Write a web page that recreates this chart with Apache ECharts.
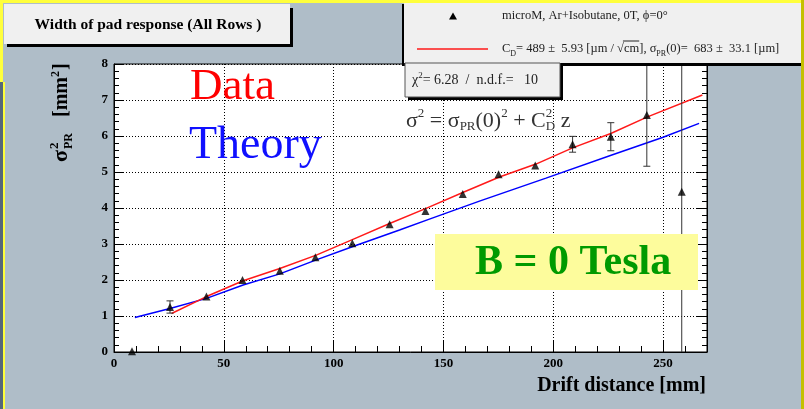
<!DOCTYPE html>
<html>
<head>
<meta charset="utf-8">
<script src="https://cdn.jsdelivr.net/npm/echarts@6/dist/echarts.min.js"></script>
<style>html,body{margin:0;padding:0;background:#afbdc8;}#c{width:804px;height:409px;}</style>
</head>
<body>
<div id="c"></div>
<script>
// ---- data ----
const dataX   = [8.2, 25.5, 42.1, 58.5, 75.5, 91.7, 108.5, 125.5, 141.8, 158.8, 175.1, 191.8, 208.8, 226.2, 242.6, 258.5];
const dataY   = [0.02, 1.25, 1.54, 2.00, 2.26, 2.63, 3.02, 3.55, 3.92, 4.39, 4.94, 5.18, 5.77, 5.98, 6.58, 4.45];
const dataErr = [0.05, 0.17, 0.05, 0.05, 0.05, 0.05, 0.05, 0.05, 0.05, 0.05, 0.05, 0.05, 0.22, 0.39, 1.42, 4.60];
const fitX    = [26.2, 42.1, 58.8, 75.5, 92.1, 108.8, 125.5, 142.1, 158.8, 175.5, 192.1, 208.8, 226.2, 242.9, 267.9];
const fitY    = [1.07, 1.54, 1.98, 2.32, 2.69, 3.13, 3.57, 3.99, 4.43, 4.86, 5.22, 5.67, 6.07, 6.53, 7.14];
const theoX   = [9.5, 25.5, 42.1, 58.8, 75.5, 92.1, 108.8, 130.0, 143.6, 166.4, 196.7, 227.0, 249.7, 266.4];
const theoY   = [0.96, 1.21, 1.49, 1.86, 2.17, 2.56, 2.93, 3.39, 3.69, 4.19, 4.83, 5.48, 5.96, 6.35];
const xTicks  = [0, 50, 100, 150, 200, 250];
const yTicks  = [0, 1, 2, 3, 4, 5, 6, 7, 8];

const SERIF = '"Liberation Serif", "DejaVu Serif", serif';
const zip = (a, b) => a.map((v, i) => [v, b[i]]);

// text measurement for placing the overline of the square root in the legend
const mctx = document.createElement('canvas').getContext('2d');
function tw(str, font) { mctx.font = font; return mctx.measureText(str).width; }
const LF = '12.5px ' + SERIF, LFS = '8px ' + SERIF;
const legX = 502;
const sqrtStart = legX + tw('C', LF) + tw('D', LFS) + tw('= 489 ±  5.93 [µm / ', LF);
const cmStart = sqrtStart + tw('√', LF) - 1;
const cmEnd = sqrtStart + tw('√cm', LF);

const chart = echarts.init(document.getElementById('c'), null, {renderer: 'canvas'});

const axisLabelStyle = {fontFamily: SERIF, fontWeight: 'bold', fontSize: 13, color: '#000'};

const option = {
  backgroundColor: '#afbdc8',
  animation: false,
  grid: {left: 114, top: 64, width: 593, height: 288, show: true, backgroundColor: '#fff', borderColor: '#000', borderWidth: 1},
  xAxis: [{
    type: 'value', min: 0, max: 270, interval: 50, position: 'bottom',
    axisLine: {show: true, onZero: false, lineStyle: {color: '#000', width: 1}},
    axisTick: {show: true, inside: true, length: 12, lineStyle: {color: '#000'}},
    axisLabel: Object.assign({margin: 5, formatter: v => xTicks.includes(v) ? String(v) : ''}, axisLabelStyle),
    splitLine: {show: true, lineStyle: {color: '#000', type: [1, 2], width: 1}}
  }, {
    type: 'value', min: 0, max: 270, interval: 10, position: 'bottom',
    axisLine: {show: false},
    axisTick: {show: true, inside: true, length: 6, lineStyle: {color: '#000'}},
    axisLabel: {show: false}, splitLine: {show: false}
  }],
  yAxis: [{
    type: 'value', min: 0, max: 8, interval: 1, position: 'left',
    axisLine: {show: true, onZero: false, lineStyle: {color: '#000', width: 1}},
    axisTick: {show: true, inside: true, length: 10, lineStyle: {color: '#000'}},
    minorTick: {show: true, splitNumber: 5, length: 5, lineStyle: {color: '#000'}},
    axisLabel: Object.assign({margin: 6, formatter: v => yTicks.includes(v) ? String(v) : ''}, axisLabelStyle),
    splitLine: {show: true, lineStyle: {color: '#000', type: [1, 2], width: 1}}
  }, {
    type: 'value', min: 0, max: 8, interval: 1, position: 'right',
    axisLine: {show: true, onZero: false, lineStyle: {color: '#000', width: 1}},
    axisTick: {show: true, inside: true, length: 10, lineStyle: {color: '#000'}},
    minorTick: {show: true, splitNumber: 5, length: 5, lineStyle: {color: '#000'}},
    axisLabel: {show: false}, splitLine: {show: false}
  }],
  series: [
    {
      name: 'theory', type: 'line', data: zip(theoX, theoY), showSymbol: false, symbol: 'none',
      lineStyle: {color: '#0000ff', width: 1.5}, z: 3, clip: true
    },
    {
      name: 'fit', type: 'line', data: zip(fitX, fitY), showSymbol: false, symbol: 'none',
      lineStyle: {color: '#ff1a1a', width: 1.5}, z: 4, clip: true
    },
    {
      name: 'errors', type: 'custom', clip: true, z: 5,
      data: dataX.map((x, i) => [x, dataY[i], dataErr[i]]),
      renderItem: function (params, api) {
        const x = api.value(0), y = api.value(1), e = api.value(2);
        if (e < 0.1) return null;
        const lo = api.coord([x, y - e]), hi = api.coord([x, y + e]);
        const w = 3.5;
        const st = {stroke: '#333', lineWidth: 1};
        return {
          type: 'group',
          children: [
            {type: 'line', shape: {x1: lo[0], y1: lo[1], x2: hi[0], y2: hi[1]}, style: st},
            {type: 'line', shape: {x1: lo[0] - w, y1: lo[1], x2: lo[0] + w, y2: lo[1]}, style: st},
            {type: 'line', shape: {x1: hi[0] - w, y1: hi[1], x2: hi[0] + w, y2: hi[1]}, style: st}
          ]
        };
      }
    },
    {
      name: 'data', type: 'scatter', data: zip(dataX, dataY), symbol: 'triangle', symbolSize: [8, 8],
      itemStyle: {color: '#000'}, z: 6
    }
  ],
  graphic: [
    // yellow frame
    {type: 'rect', shape: {x: 0, y: 0, width: 804, height: 3}, style: {fill: '#ffff3c'}, z: 50},
    {type: 'rect', shape: {x: 0, y: 0, width: 3, height: 82}, style: {fill: '#ffff3c'}, z: 50},
    {type: 'rect', shape: {x: 0, y: 82, width: 3, height: 327}, style: {fill: '#56677a'}, z: 50},
    {type: 'rect', shape: {x: 3, y: 82, width: 2, height: 327}, style: {fill: '#ffff3c'}, z: 50},
    {type: 'rect', shape: {x: 801, y: 0, width: 3, height: 409}, style: {fill: '#c4c000'}, z: 50},
    // title box
    {type: 'rect', shape: {x: 7, y: 8, width: 286, height: 39}, style: {fill: '#000'}, z: 50},
    {type: 'rect', shape: {x: 4, y: 4, width: 286, height: 40}, style: {fill: '#f0f0f0'}, z: 51},
    {type: 'text', x: 148, y: 25, z: 52,
      style: {text: 'Width of pad response (All Rows )', font: 'bold 15.5px ' + SERIF, fill: '#000', align: 'center', verticalAlign: 'middle'}},
    // legend box
    {type: 'rect', shape: {x: 402, y: 4, width: 399, height: 62}, style: {fill: '#000'}, z: 50},
    {type: 'rect', shape: {x: 404, y: 3, width: 397, height: 60}, style: {fill: '#f0f0f0'}, z: 51},
    {type: 'polygon', shape: {points: [[453, 12.5], [457, 19.5], [449, 19.5]]}, style: {fill: '#000'}, z: 52},
    {type: 'text', x: legX, y: 16, z: 52,
      style: {text: 'microM, Ar+Isobutane, 0T, ϕ=0°', font: LF, fill: '#222', verticalAlign: 'middle'}},
    {type: 'line', shape: {x1: 417, y1: 49, x2: 488, y2: 49}, style: {stroke: '#ff1a1a', lineWidth: 1.5}, z: 52},
    {type: 'text', x: legX, y: 49, z: 52,
      style: {
        text: 'C{sub|D}= 489 ±  5.93 [µm / √cm], σ{sub|PR}(0)=  683 ±  33.1 [µm]',
        font: LF, fill: '#222', verticalAlign: 'middle',
        rich: {sub: {font: LFS, fill: '#222', padding: [10, 0, 0, 0]}}
      }},
    {type: 'line', shape: {x1: cmStart, y1: 41, x2: cmEnd, y2: 41}, style: {stroke: '#222', lineWidth: 1}, z: 53},
    // chi2 box
    {type: 'rect', shape: {x: 408, y: 66, width: 155, height: 34}, style: {fill: '#000'}, z: 50},
    {type: 'rect', shape: {x: 405, y: 63, width: 155, height: 34}, style: {fill: '#f0f0f0', stroke: '#555', lineWidth: 1}, z: 51},
    {type: 'text', x: 412, y: 80, z: 52,
      style: {
        text: 'χ{sup|2}= 6.28  /  n.d.f.=   10',
        font: '14px ' + SERIF, fill: '#222', verticalAlign: 'middle',
        rich: {sup: {font: '9px ' + SERIF, fill: '#222', padding: [0, 0, 8, 0]}}
      }},
    // formula
    {type: 'text', x: 406, y: 121, z: 52,
      style: {
        text: 'σ{sup|2} = σ{sub|PR}(0){sup|2} + C{sup0|2}{sub|D} z',
        font: '22px ' + SERIF, fill: '#333', verticalAlign: 'middle',
        rich: {
          sup: {font: '13px ' + SERIF, fill: '#333', padding: [0, 0, 14, 0]},
          sup0: {font: '13px ' + SERIF, fill: '#333', padding: [0, 0, 14, 0], width: 0},
          sub: {font: '13px ' + SERIF, fill: '#333', padding: [12, 0, 0, 0]}
        }
      }},
    // Data / Theory
    {type: 'text', x: 190, y: 87, z: 52,
      style: {text: 'Data', font: '45px ' + SERIF, fill: '#ff0000', verticalAlign: 'middle'}},
    {type: 'text', x: 189, y: 146, z: 52,
      style: {text: 'Theory', font: '46px ' + SERIF, fill: '#1010ff', verticalAlign: 'middle'}},
    // B = 0 Tesla box
    {type: 'rect', shape: {x: 435, y: 234, width: 263, height: 56}, style: {fill: '#fdfc9c'}, z: 51},
    {type: 'text', x: 475, y: 263, z: 52,
      style: {text: 'B = 0 Tesla', font: 'bold 42px ' + SERIF, fill: '#009a00', verticalAlign: 'middle'}},
    // x-axis title
    {type: 'text', x: 706, y: 386, z: 52,
      style: {text: 'Drift distance [mm]', font: 'bold 20px ' + SERIF, fill: '#000', align: 'right', verticalAlign: 'middle'}},
    // y-axis title (rotated)
    {type: 'group', x: 72, y: 162, rotation: Math.PI / 2, z: 52, children: [
      {type: 'text', x: 0, y: 0, style: {text: 'σ', font: 'bold 22px ' + SERIF, fill: '#000', verticalAlign: 'bottom'}},
      {type: 'text', x: 13, y: -11, style: {text: '2', font: 'bold 13px ' + SERIF, fill: '#000', verticalAlign: 'bottom'}},
      {type: 'text', x: 13, y: 3, style: {text: 'PR', font: 'bold 12px ' + SERIF, fill: '#000', verticalAlign: 'bottom'}},
      {type: 'text', x: 45, y: 0, style: {text: '[mm', font: 'bold 20px ' + SERIF, fill: '#000', verticalAlign: 'bottom'}},
      {type: 'text', x: 85, y: -10, style: {text: '2', font: 'bold 12px ' + SERIF, fill: '#000', verticalAlign: 'bottom'}},
      {type: 'text', x: 92, y: 0, style: {text: ']', font: 'bold 20px ' + SERIF, fill: '#000', verticalAlign: 'bottom'}}
    ]}
  ]
};
chart.setOption(option);
</script>
</body>
</html>
